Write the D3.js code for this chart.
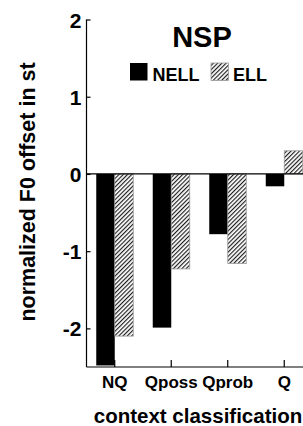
<!DOCTYPE html>
<html>
<head>
<meta charset="utf-8">
<script src="https://cdn.jsdelivr.net/npm/d3@7"></script>
<style>
body { margin: 0; background: #fff; }
text { font-family: "Liberation Sans", Arial, sans-serif; font-weight: bold; }
</style>
</head>
<body>
<div></div>
<script>
var width = 303;
var height = 426;

var categories = ["NQ", "Qposs", "Qprob", "Q"];
var series = ["NELL", "ELL"];
var nellValues = [-2.48, -1.99, -0.78, -0.16];
var ellValues = [-2.10, -1.23, -1.16, 0.30];
var yTicks = [-2, -1, 0, 1, 2];

var margin = { left: 86.5, top: 19.5, bottom: 367 };

var svg = d3.select("div")
	.append("svg")
	.attr("width", width)
	.attr("height", height);

var defs = svg.append("defs");
var pattern = defs.append("pattern")
	.attr("id", "hatch")
	.attr("patternUnits", "userSpaceOnUse")
	.attr("width", 3)
	.attr("height", 3)
	.attr("patternTransform", "rotate(45)");
pattern.append("rect").attr("width", 3).attr("height", 3).attr("fill", "#fff");
pattern.append("line")
	.attr("x1", 0.6).attr("y1", 0).attr("x2", 0.6).attr("y2", 3)
	.attr("stroke", "#111").attr("stroke-width", 1.1);

var x = d3.scaleBand()
	.domain(categories)
	.range([margin.left, margin.left + 226])
	.paddingInner(0.34)
	.paddingOuter(0.17);

var y = d3.scaleLinear()
	.domain([-2.5, 2])
	.range([margin.bottom, margin.top]);

var rows = categories.map((c, i) => ({ cat: c, NELL: nellValues[i], ELL: ellValues[i] }));

var bars = svg.append("g");
rows.forEach(d => {
	var cx = x(d.cat) + x.bandwidth() / 2;
	var bw = 18.5;
	bars.append("rect")
		.attr("x", cx - bw)
		.attr("width", bw)
		.attr("y", y(Math.max(0, d.NELL)))
		.attr("height", Math.abs(y(d.NELL) - y(0)))
		.attr("fill", "#000");
	bars.append("rect")
		.attr("x", cx)
		.attr("width", bw)
		.attr("y", y(Math.max(0, d.ELL)))
		.attr("height", Math.abs(y(d.ELL) - y(0)))
		.attr("fill", "url(#hatch)")
		.attr("stroke", "#999")
		.attr("stroke-width", 0.8);
});

// zero line
svg.append("line")
	.attr("x1", margin.left).attr("x2", width)
	.attr("y1", y(0)).attr("y2", y(0))
	.attr("stroke", "#000").attr("stroke-width", 1.2);

// y axis, ticks pointing inward
var yAxis = svg.append("g")
	.attr("transform", "translate(" + margin.left + ",0)")
	.call(d3.axisRight(y).tickValues(yTicks).tickSize(4).tickFormat(d3.format("d")));
yAxis.select(".domain").attr("d", "M0," + y(2) + "V" + margin.bottom).attr("stroke-width", 1.2);
yAxis.selectAll(".tick line").attr("stroke-width", 1.2);
yAxis.selectAll(".tick text")
	.attr("x", -5)
	.attr("dy", "0.36em")
	.attr("text-anchor", "end")
	.attr("font-size", 21)
	.text(d => d < 0 ? "-" + Math.abs(d) : d);

// x axis at bottom
var xAxis = svg.append("g")
	.attr("transform", "translate(0," + margin.bottom + ")")
	.call(d3.axisTop(x).tickSize(7).tickFormat(""));
xAxis.select(".domain").attr("d", "M" + margin.left + ",0H" + width).attr("stroke-width", 1.2);
xAxis.selectAll(".tick line").attr("stroke-width", 1.2);
xAxis.selectAll(".tick").append("text")
	.attr("y", 21)
	.attr("fill", "#000")
	.attr("text-anchor", "middle")
	.attr("font-size", 17)
	.text(d => d);

// title
svg.append("text")
	.attr("x", 202).attr("y", 47)
	.attr("text-anchor", "middle")
	.attr("font-size", 29)
	.text("NSP");

// legend
var legend = svg.append("g");
legend.append("rect").attr("x", 130).attr("y", 63).attr("width", 17.5).attr("height", 17.5).attr("fill", "#000");
legend.append("text").attr("x", 152.5).attr("y", 80.5).attr("font-size", 18).text(series[0]);
legend.append("rect").attr("x", 211).attr("y", 63).attr("width", 17.5).attr("height", 17.5)
	.attr("fill", "url(#hatch)").attr("stroke", "#999").attr("stroke-width", 0.8);
legend.append("text").attr("x", 233).attr("y", 80.5).attr("font-size", 18).text(series[1]);

// axis titles
svg.append("text")
	.attr("transform", "translate(35,192) rotate(-90)")
	.attr("text-anchor", "middle")
	.attr("font-size", 21.5)
	.text("normalized F0 offset in st");

svg.append("text")
	.attr("x", 198).attr("y", 423)
	.attr("text-anchor", "middle")
	.attr("font-size", 20.5)
	.text("context classification");
</script>
</body>
</html>
